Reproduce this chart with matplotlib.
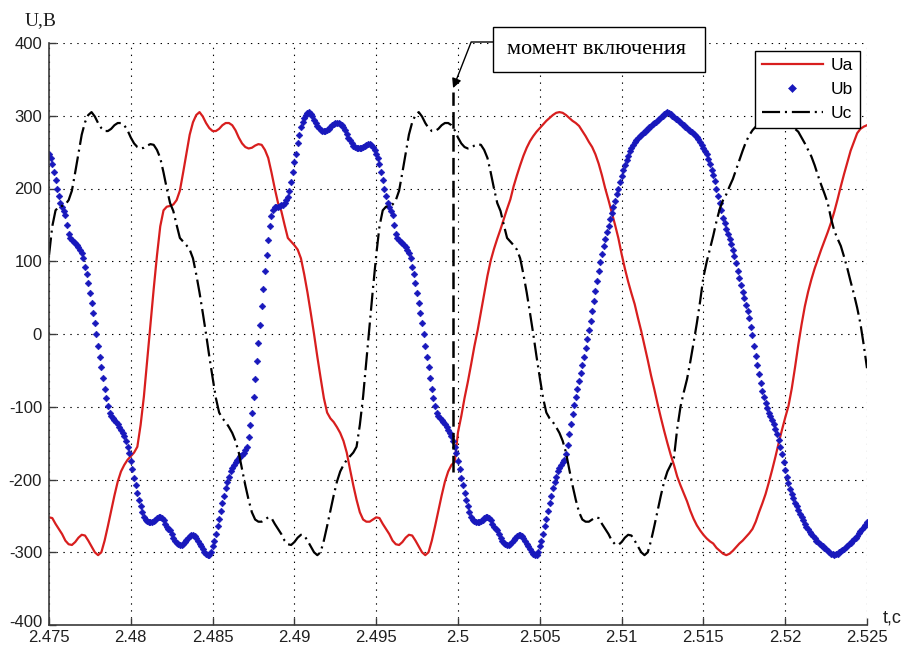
import matplotlib
matplotlib.use("Agg")
import matplotlib.pyplot as plt
from matplotlib.patches import Rectangle
from matplotlib.transforms import ScaledTranslation
import numpy as np

# Phase voltages, 2.475 ... 2.525 s
T_START, T_END = 2.475, 2.525
T_SWITCH = 2.4997           # switching instant
SWITCH_SPAN = (-190, 332)   # vertical extent of the marker line, V

# Ua, every 0.2 ms
ua = [
    -252, -253, -261, -268, -275, -284, -289, -290, -286, -280,
    -276, -277, -284, -292, -300, -304, -300, -284, -264, -243,
    -222, -203, -189, -180, -173, -168, -163, -155, -125, -86,
    -37, 13, 62, 108, 148, 170, 175, 176, 178, 184,
    197, 222, 248, 274, 291, 301, 305, 299, 290, 283,
    279, 279, 282, 287, 290, 290, 287, 280, 270, 262,
    257, 255, 256, 259, 261, 260, 253, 242, 222, 200,
    180, 169, 150, 132, 127, 122, 116, 104, 82, 57,
    29, 0, -31, -60, -88, -108, -116, -121, -128, -136,
    -147, -163, -186, -208, -228, -245, -255, -258, -258, -255,
    -252, -253, -261, -268, -275, -284, -289, -290, -286, -280,
    -276, -277, -284, -292, -300, -304, -300, -284, -264, -243,
    -222, -203, -189, -180, -176,
    -135, -113, -88, -66, -42, -17, 5, 30, 55, 80,
    101, 117, 131, 144, 158, 172, 185, 203, 218, 232,
    245, 256, 265, 272, 278, 283, 288, 293, 297, 301,
    304, 305, 304, 301, 297, 293, 290, 286, 279, 272,
    264, 257, 247, 234, 218, 200, 184, 167, 150, 132,
    110, 90, 72, 56, 41, 22, 4, -16, -36, -57,
    -76, -96, -115, -133, -150, -166, -180, -196, -208, -219,
    -230, -243, -254, -263, -270, -276, -281, -285, -288, -294,
    -298, -302, -304, -302, -298, -293, -288, -284, -279, -274,
    -268, -258, -245, -233, -220, -204, -187, -169, -150, -132,
    -115, -99, -75, -46, -15, 13, 38, 58, 75, 90,
    103, 116, 128, 140, 153, 168, 185, 203, 220, 236,
    252, 264, 276, 282, 285, 287,
]

# Ub, every 0.1 ms (drawn as markers)
ub = [
    248, 242, 233, 222, 211, 200, 190, 180, 174, 169,
    163, 150, 138, 132, 129, 127, 125, 122, 119, 116,
    112, 104, 92, 82, 70, 57, 43, 29, 15, 0,
    -16, -31, -46, -60, -75, -88, -99, -108, -113, -116,
    -118, -121, -124, -128, -132, -136, -140, -147, -155, -163,
    -174, -186, -198, -208, -219, -228, -237, -245, -251, -255,
    -257, -258, -258, -258, -257, -255, -253,
    -252, -252, -253, -256, -261, -265, -268, -270, -275, -280,
    -284, -287, -289, -290, -290, -289, -286, -283, -280, -277,
    -276, -276, -277, -280, -284, -288, -292, -296, -300, -303,
    -304, -304, -300, -292, -284, -275, -264, -254, -243, -232,
    -222, -212, -203, -196, -189, -184, -180, -176, -173, -170,
    -168, -166, -163, -160, -155, -141, -125, -109, -86, -62,
    -37, -12, 13, 38, 62, 86, 108, 129, 148, 162,
    170, 174, 175, 175, 176, 177, 178, 180, 184, 189,
    197, 209, 222, 236, 248, 262, 274, 284, 291, 297,
    301, 304, 305, 303, 299, 294, 290, 286, 283, 281,
    279, 279, 279, 280, 282, 284, 287, 289, 290, 290,
    290, 289, 287, 284, 280, 275, 270, 266, 262, 259,
    257, 256, 255, 255, 256, 257, 259, 260, 261, 261,
    260, 257, 253, 248, 242, 233, 222, 211, 200, 190,
    180, 174, 169, 163, 150, 138, 132, 129, 127, 125,
    122, 119, 116, 112, 104, 92, 82, 70, 57, 43,
    29, 15, 0, -16, -31, -46, -60, -75, -88, -99,
    -108, -113, -116, -118, -121, -124, -128, -132, -136, -140,
    -147, -155, -163, -174, -186, -198, -208, -219, -228, -237,
    -245, -251, -255, -257, -258, -258, -258, -257, -255, -253,
    -252, -252, -253, -256, -261, -265, -268, -270, -275, -280,
    -284, -287, -289, -290, -290, -289, -286, -283, -280, -277,
    -276, -276, -277, -280, -284, -288, -292, -296, -300, -303,
    -304, -304, -300, -292, -284, -275, -264, -254, -243, -232,
    -222, -212, -203, -196, -189, -184, -180, -176, -173,
    -165, -152, -138, -124, -110, -98, -86, -75, -64, -53,
    -42, -31, -19, -7, 5, 18, 31, 45, 59, 73,
    87, 99, 110, 121, 131, 140, 149, 158, 166, 174,
    183, 192, 200, 209, 217, 225, 232, 239, 245, 251,
    256, 260, 264, 267, 270, 272, 274, 276, 278, 280,
    282, 284, 286, 288, 290, 292, 294, 296, 298, 300,
    302, 304, 305, 304, 302, 300, 298, 296, 295, 293,
    291, 289, 287, 285, 283, 281, 279, 277, 275, 273,
    271, 268, 264, 260, 256, 252, 248, 241, 233, 226,
    218, 210, 200, 190, 180, 170, 160, 152, 145, 138,
    131, 124, 116, 107, 97, 87, 77, 67, 58, 49,
    40, 32, 22, 10, -2, -16, -30, -43, -55, -67,
    -78, -87, -95, -102, -108, -113, -118, -124, -131, -138,
    -146, -155, -165, -176, -187, -197, -205, -213, -220, -226,
    -232, -237, -242, -247, -252, -256, -261, -265, -268, -272,
    -275, -278, -281, -284, -286, -288, -290, -292, -294, -296,
    -298, -300, -302, -303, -304, -303, -302, -300, -298, -297,
    -295, -293, -291, -289, -287, -285, -282, -280, -277, -274,
    -271, -268, -265, -262, -258,
]

# Uc, every 0.2 ms
uc = [
    108, 148, 170, 175, 176, 178, 184, 197, 222, 248,
    274, 291, 301, 305, 299, 290, 283, 279, 279, 282,
    287, 290, 290, 287, 280, 270, 262, 257, 255, 256,
    259, 261, 260, 253, 242, 222, 200, 180, 169, 150,
    132, 127, 122, 116, 104, 82, 57, 29, 0, -31,
    -60, -88, -108, -116, -121, -128, -136, -147, -163, -186,
    -208, -228, -245, -255, -258, -258, -255,
    -252, -253, -261, -268, -275, -284, -289, -290, -286, -280,
    -276, -277, -284, -292, -300, -304, -300, -284, -264, -243,
    -222, -203, -189, -180, -173, -168, -163, -155, -125, -86,
    -37, 13, 62, 108, 148, 170, 175, 176, 178, 184,
    197, 222, 248, 274, 291, 301, 305, 299, 290, 283,
    279, 279, 282, 287, 290, 290, 287, 280, 270, 262,
    257, 255, 256, 259, 261, 260, 253, 242, 222, 200,
    180, 169, 150, 132, 127, 122, 116, 104, 82, 57,
    29, 0, -31, -60, -88, -108, -116, -121, -128, -136,
    -147, -163, -186, -208, -228, -245, -255, -258, -258, -255,
    -252, -253, -261, -268, -275, -284, -289, -290, -286, -280,
    -276, -277, -284, -292, -300, -304, -300, -284, -264, -243,
    -222, -203, -189, -180,
    -170, -130, -100, -80, -62, -38, -12, 15, 45, 78,
    99, 117, 135, 155, 172, 184, 192, 203, 213, 226,
    239, 252, 264, 273, 280, 285, 290, 294, 298, 301,
    303, 304, 303, 300, 296, 292, 287, 282, 278, 270,
    262, 253, 244, 232, 218, 205, 193, 180, 159, 142,
    131, 121, 106, 90, 72, 55, 36, 14, -15, -47,
]

series_names = ["Ua", "Ub", "Uc"]
x_ticks = [2.475, 2.48, 2.485, 2.49, 2.495, 2.5, 2.505, 2.51, 2.515, 2.52, 2.525]
x_tick_labels = ["2.475", "2.48", "2.485", "2.49", "2.495", "2.5",
                 "2.505", "2.51", "2.515", "2.52", "2.525"]
y_ticks = [-400, -300, -200, -100, 0, 100, 200, 300, 400]
y_tick_labels = ["-400", "-300", "-200", "-100", "0", "100", "200", "300", "400"]

t_line = np.linspace(T_START, T_END, len(ua))
t_dots = np.linspace(T_START, T_END, len(ub))
t_uc = np.linspace(T_START, T_END, len(uc))

plt.rcParams["font.family"] = ["Liberation Sans", "DejaVu Sans"]
plt.rcParams["lines.scale_dashes"] = False

W, H = 903, 645
fig = plt.figure(figsize=(W / 100, H / 100), dpi=100)
ax = fig.add_axes([49 / W, 20 / H, 818 / W, 582 / H])

ax.plot(t_line, ua, color="#d81e1e", lw=1.6, label=series_names[0])
ax.plot(t_dots, ub, ls="none", marker="D", ms=3.4, color="#1818bc",
        mec="#1818bc", mew=0.4, label=series_names[1])
ax.plot(t_uc, uc, color="black", lw=1.6, ls=(0, (13, 3.5, 1.5, 3.5)),
        label=series_names[2])

# switching instant
ax.plot([T_SWITCH, T_SWITCH], SWITCH_SPAN, color="black", lw=1.8,
        ls=(0, (12, 4.5)))

ax.set_xlim(T_START, T_END)
ax.set_ylim(-400, 400)
ax.set_xticks(x_ticks)
ax.set_xticklabels(x_tick_labels)
ax.set_yticks(y_ticks)
ax.set_yticklabels(y_tick_labels)
ax.grid(True, color="black", lw=0.8, ls=(0, (1, 4)))
ax.set_axisbelow(True)
for side in ("top", "right"):
    ax.spines[side].set_visible(False)
for side in ("left", "bottom"):
    ax.spines[side].set_color("#3a3a3a")
    ax.spines[side].set_linewidth(1.2)
ax.tick_params(direction="in", length=5, width=1, color="#3a3a3a",
               labelsize=12, labelcolor="#202020")
ax.tick_params(axis="x", pad=3.5)
ax.tick_params(axis="y", pad=5)

# lift the lowest y label a little so it clears the first x label
low = ax.get_yticklabels()[0]
low.set_transform(low.get_transform()
                  + ScaledTranslation(0, 4 / 100, fig.dpi_scale_trans))

fig.text(25 / W, 1 - 21 / H, "U,В", family="Liberation Serif", fontsize=14,
         va="center", ha="left", color="#202020")
fig.text(883 / W, 1 - 618 / H, "t,с", fontsize=13, va="center", ha="left",
         color="#202020")

leg = ax.legend(loc="upper right", bbox_to_anchor=(860 / W, 1 - 51 / H),
                bbox_transform=fig.transFigure, borderaxespad=0,
                fancybox=False, edgecolor="black", framealpha=1,
                handlelength=3.5, handletextpad=0.45, labelspacing=0.5,
                borderpad=0.4, fontsize=12.5, numpoints=1, markerscale=1.2)
leg.get_frame().set_linewidth(1.0)

# callout box with a bent arrow to the top of the switching line
fig.patches.append(Rectangle((493 / W, 1 - 72 / H), 212 / W, 45 / H,
                             transform=fig.transFigure, fc="white",
                             ec="black", lw=1, zorder=5))
fig.text(597 / W, 1 - 49.5 / H, "момент включения", family="Liberation Serif",
         fontsize=16, ha="center", va="center", zorder=6)
ax.annotate("", xy=(T_SWITCH, 338), xycoords="data",
            xytext=(493 / W, 1 - 42 / H), textcoords="figure fraction",
            arrowprops=dict(arrowstyle="-|>", color="black", lw=1,
                            connectionstyle="angle,angleA=0,angleB=68.6,rad=0",
                            shrinkA=0, shrinkB=0, mutation_scale=14))

fig.savefig("out.png", dpi=100)
